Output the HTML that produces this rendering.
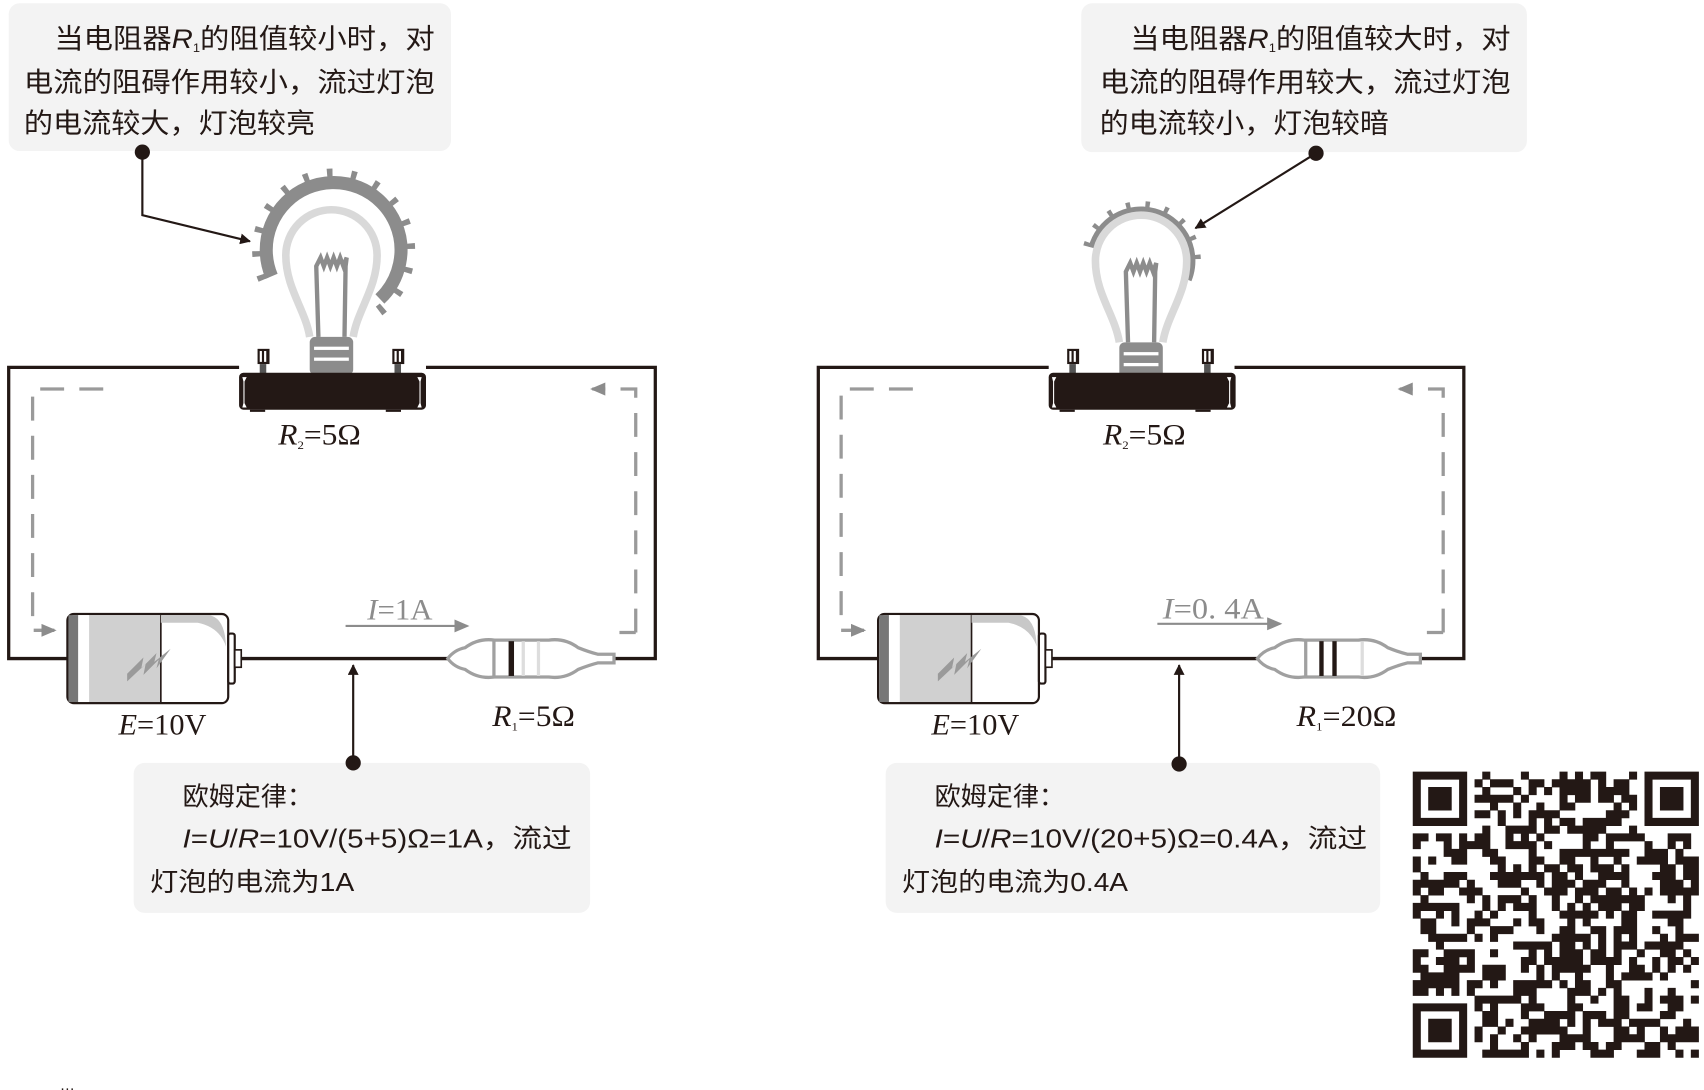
<!DOCTYPE html>
<html><head><meta charset="utf-8"><style>
html,body{margin:0;padding:0;background:#fff;width:1704px;height:1090px;overflow:hidden}
svg{display:block}
.cn{font-family:"Liberation Sans","Noto Sans CJK SC",sans-serif;fill:#231815}
.sr{font-family:"Liberation Serif","Noto Serif CJK SC",serif;fill:#231815}
</style></head><body>
<svg id="s" width="1704" height="1090" viewBox="0 0 1568 1003" xmlns="http://www.w3.org/2000/svg">
<defs>
<marker id="ab" markerWidth="10" markerHeight="10" refX="9" refY="5" orient="auto" markerUnits="userSpaceOnUse"><path d="M0,0 L18,5 L0,10 Z" transform="scale(0.55,1)" fill="#231815"/></marker>
<marker id="ag" markerWidth="14" markerHeight="12" refX="12" refY="6" orient="auto" markerUnits="userSpaceOnUse"><path d="M0,0 L14,6 L0,12 Z" fill="#8c8c8c"/></marker>
<g id="socket">
 <rect x="-5" y="-32" width="11" height="14" fill="#231815"/><rect x="-3" y="-30" width="2" height="10" fill="#fff"/><rect x="1" y="-30" width="2" height="10" fill="#fff"/>
 <rect x="-3" y="-18" width="6" height="10" fill="#555"/>
 <rect x="119" y="-32" width="11" height="14" fill="#231815"/><rect x="121" y="-30" width="2" height="10" fill="#fff"/><rect x="125" y="-30" width="2" height="10" fill="#fff"/>
 <rect x="121" y="-18" width="6" height="10" fill="#555"/>
 <rect x="-22" y="-10" width="172" height="34" rx="4" fill="#231815"/>
 <path d="M-19,-6 L-15,-6 L-17,-2 L-17,18 L-15,22 L-19,22 L-18,18 L-18,-2Z M146,-6 L142,-6 L144,-2 L144,18 L142,22 L146,22 L145,18 L145,-2Z" fill="#fff"/>
 <rect x="-12" y="24" width="14" height="2" fill="#231815"/><rect x="113" y="24" width="14" height="2" fill="#231815"/>
</g>
<g id="bulb">
 <path d="M-20,75 C-24,50 -42,30 -42,0 A42,42 0 1 1 42,0 C42,30 24,50 20,75" fill="none" stroke="#d9d9d9" stroke-width="7"/>
 <path d="M-12,75 L-14,10 L-10,2 L-7,10 L-4,2 L-1,10 L2,2 L5,10 L8,2 L11,10 L14,2 L13,10 L12,75" fill="none" stroke="#8c8c8c" stroke-width="4"/>
 <rect x="-20" y="75" width="40" height="35" rx="5" fill="#8c8c8c"/>
 <rect x="-16" y="84" width="32" height="3" fill="#fff"/><rect x="-16" y="94" width="32" height="3" fill="#fff"/>
 <path d="M-13,110 L13,110 L5,120 L-5,120Z" fill="#8c8c8c"/>
</g>
<g id="battery">
 <rect x="0" y="0" width="148" height="82" rx="6" fill="#fff" stroke="#231815" stroke-width="2"/>
 <rect x="1" y="1" width="9" height="80" fill="#777"/>
 <rect x="10" y="1" width="10" height="80" fill="#fff"/>
 <rect x="20" y="1" width="66" height="80" fill="#d0d0d0"/>
 <line x1="86" y1="1" x2="86" y2="81" stroke="#231815" stroke-width="1.5"/>
 <path d="M86,1 L130,1 Q145,3 146,30 Q140,12 120,8 L86,8Z" fill="#c8c8c8"/>
 <path d="M55,55 L70,40 L68,50 L82,36 L80,44 L95,32 L82,50 L84,42 L70,56 L72,46 L55,62Z" fill="#9a9a9a"/>
 <rect x="148" y="18" width="6" height="46" rx="2" fill="#fff" stroke="#231815" stroke-width="2"/>
 <rect x="154" y="33" width="6" height="16" fill="#fff" stroke="#231815" stroke-width="1.5"/>
</g>
</defs>

<!-- LEFT PANEL -->
<rect x="8" y="3" width="407" height="136" rx="10" fill="#f3f3f3"/>
<text class="cn" font-size="25" x="50" y="44" textLength="350" lengthAdjust="spacingAndGlyphs">当电阻器<tspan font-style="italic">R</tspan><tspan font-size="11" dy="4">1</tspan><tspan dy="-4">的阻值较小时，对</tspan></text>
<text class="cn" font-size="25" x="22" y="84" textLength="378" lengthAdjust="spacingAndGlyphs">电流的阻碍作用较小，流过灯泡</text>
<text class="cn" font-size="25" x="22" y="122" textLength="268" lengthAdjust="spacingAndGlyphs">的电流较大，灯泡较亮</text>
<circle cx="131" cy="140" r="7" fill="#231815"/>
<polyline points="131,140 131,198 230,222" fill="none" stroke="#231815" stroke-width="2" marker-end="url(#ab)"/>
<!-- glow left -->
<circle cx="307" cy="230" r="62" fill="none" stroke="#8c8c8c" stroke-width="12" stroke-dasharray="270 200" transform="rotate(157 307 230)"/>
<circle cx="307" cy="230" r="70" fill="none" stroke="#8c8c8c" stroke-width="10" transform="rotate(157 307 230)" style="stroke-dasharray:5 17,5 17,5 17,5 17,5 17,5 17,5 17,5 17,5 17,5 17,5 17,5 17,5 17,5 17,5 400"/>
<use href="#bulb" x="305" y="235"/>
<!-- wires left -->
<path d="M220,338 L8,338 L8,606 L62,606 M392,338 L603,338 L603,606 L565,606 M222,606 L412,606" fill="none" stroke="#231815" stroke-width="3"/>
<use href="#socket" x="242" y="353"/>
<path d="M95,358 L30,358 L30,580 L50,580" fill="none" stroke="#9a9a9a" stroke-width="3" stroke-dasharray="22 14" marker-end="url(#ag)"/>
<path d="M585,582 L585,358 L545,358" fill="none" stroke="#9a9a9a" stroke-width="3" stroke-dasharray="22 14" marker-end="url(#ag)"/>
<line x1="570" y1="582" x2="585" y2="582" stroke="#9a9a9a" stroke-width="3"/>
<text class="sr" font-size="27" x="256" y="409" textLength="76" lengthAdjust="spacingAndGlyphs"><tspan font-style="italic">R</tspan><tspan font-size="11" dy="4">2</tspan><tspan dy="-4">=5Ω</tspan></text>
<use href="#battery" x="62" y="565"/>
<text class="sr" font-size="27" x="109" y="676" textLength="81" lengthAdjust="spacingAndGlyphs"><tspan font-style="italic">E</tspan>=10V</text>
<line x1="318" y1="576" x2="430" y2="576" stroke="#8c8c8c" stroke-width="2" marker-end="url(#ag)"/>
<text class="sr" font-size="27" x="338" y="570" textLength="60" lengthAdjust="spacingAndGlyphs" style="fill:#8c8c8c"><tspan font-style="italic">I</tspan>=1A</text>
<!-- resistor left -->
<path d="M412,606 Q418,598 428,596 Q440,587 455,589 L505,589 Q520,587 532,596 Q542,600 550,602 L565,602 L565,610 L550,610 Q542,612 532,616 Q520,625 505,623 L455,623 Q440,625 428,616 Q418,614 412,606Z" fill="#fff" stroke="#a0a0a0" stroke-width="3"/>
<rect x="453" y="590" width="3" height="32" fill="#a0a0a0"/><rect x="468" y="590" width="5" height="32" fill="#231815"/><rect x="480" y="590" width="3" height="32" fill="#ddd"/><rect x="494" y="590" width="3" height="32" fill="#ddd"/>
<text class="sr" font-size="27" x="453" y="668" textLength="76" lengthAdjust="spacingAndGlyphs"><tspan font-style="italic">R</tspan><tspan font-size="11" dy="4">1</tspan><tspan dy="-4">=5Ω</tspan></text>
<rect x="123" y="702" width="420" height="138" rx="10" fill="#f3f3f3"/>
<circle cx="325" cy="702" r="7" fill="#231815"/>
<line x1="325" y1="702" x2="325" y2="612" stroke="#231815" stroke-width="2" marker-end="url(#ab)"/>
<text class="cn" font-size="24" x="168" y="741" textLength="120" lengthAdjust="spacingAndGlyphs">欧姆定律：</text>
<text class="cn" font-size="24" x="168" y="780" textLength="358" lengthAdjust="spacingAndGlyphs"><tspan font-style="italic">I</tspan>=<tspan font-style="italic">U</tspan>/<tspan font-style="italic">R</tspan>=10V/(5+5)Ω=1A，流过</text>
<text class="cn" font-size="24" x="138" y="820" textLength="188" lengthAdjust="spacingAndGlyphs">灯泡的电流为1A</text>

<!-- RIGHT PANEL -->
<rect x="995" y="3" width="410" height="137" rx="10" fill="#f3f3f3"/>
<text class="cn" font-size="25" x="1040" y="44" textLength="350" lengthAdjust="spacingAndGlyphs">当电阻器<tspan font-style="italic">R</tspan><tspan font-size="11" dy="4">1</tspan><tspan dy="-4">的阻值较大时，对</tspan></text>
<text class="cn" font-size="25" x="1012" y="84" textLength="378" lengthAdjust="spacingAndGlyphs">电流的阻碍作用较大，流过灯泡</text>
<text class="cn" font-size="25" x="1012" y="122" textLength="266" lengthAdjust="spacingAndGlyphs">的电流较小，灯泡较暗</text>
<circle cx="1211" cy="141" r="7" fill="#231815"/>
<line x1="1211" y1="141" x2="1100" y2="210" stroke="#231815" stroke-width="2" marker-end="url(#ab)"/>
<circle cx="1050" cy="240" r="46" fill="none" stroke="#8c8c8c" stroke-width="8" stroke-dasharray="150 200" transform="rotate(195 1050 240)"/>
<circle cx="1050" cy="240" r="52" fill="none" stroke="#8c8c8c" stroke-width="6" transform="rotate(195 1050 240)" style="stroke-dasharray:4 14,4 14,4 14,4 14,4 14,4 14,4 14,4 14,4 400"/>
<use href="#bulb" x="1050" y="240"/>
<path d="M965,338 L753,338 L753,606 L808,606 M1136,338 L1347,338 L1347,606 L1307,606 M968,606 L1157,606" fill="none" stroke="#231815" stroke-width="3"/>
<use href="#socket" x="987" y="353"/>
<path d="M840,358 L774,358 L774,580 L795,580" fill="none" stroke="#9a9a9a" stroke-width="3" stroke-dasharray="22 14" marker-end="url(#ag)"/>
<path d="M1328,582 L1328,358 L1288,358" fill="none" stroke="#9a9a9a" stroke-width="3" stroke-dasharray="22 14" marker-end="url(#ag)"/>
<line x1="1313" y1="582" x2="1328" y2="582" stroke="#9a9a9a" stroke-width="3"/>
<text class="sr" font-size="27" x="1015" y="409" textLength="76" lengthAdjust="spacingAndGlyphs"><tspan font-style="italic">R</tspan><tspan font-size="11" dy="4">2</tspan><tspan dy="-4">=5Ω</tspan></text>
<use href="#battery" x="808" y="565"/>
<text class="sr" font-size="27" x="857" y="676" textLength="81" lengthAdjust="spacingAndGlyphs"><tspan font-style="italic">E</tspan>=10V</text>
<line x1="1065" y1="574" x2="1178" y2="574" stroke="#8c8c8c" stroke-width="2" marker-end="url(#ag)"/>
<text class="sr" font-size="27" x="1070" y="569" textLength="93" lengthAdjust="spacingAndGlyphs" style="fill:#8c8c8c"><tspan font-style="italic">I</tspan>=0. 4A</text>
<path d="M1157,606 Q1163,598 1173,596 Q1185,587 1200,589 L1250,589 Q1265,587 1277,596 Q1287,600 1295,602 L1307,602 L1307,610 L1295,610 Q1287,612 1277,616 Q1265,625 1250,623 L1200,623 Q1185,625 1173,616 Q1163,614 1157,606Z" fill="#fff" stroke="#a0a0a0" stroke-width="3"/>
<rect x="1200" y="590" width="3" height="32" fill="#a0a0a0"/><rect x="1214" y="590" width="4" height="32" fill="#231815"/><rect x="1226" y="590" width="4" height="32" fill="#231815"/><rect x="1252" y="590" width="3" height="32" fill="#ddd"/>
<text class="sr" font-size="27" x="1193" y="668" textLength="92" lengthAdjust="spacingAndGlyphs"><tspan font-style="italic">R</tspan><tspan font-size="11" dy="4">1</tspan><tspan dy="-4">=20Ω</tspan></text>
<rect x="815" y="702" width="455" height="138" rx="10" fill="#f3f3f3"/>
<circle cx="1085" cy="703" r="7" fill="#231815"/>
<line x1="1085" y1="703" x2="1085" y2="612" stroke="#231815" stroke-width="2" marker-end="url(#ab)"/>
<text class="cn" font-size="24" x="860" y="741" textLength="120" lengthAdjust="spacingAndGlyphs">欧姆定律：</text>
<text class="cn" font-size="24" x="860" y="780" textLength="398" lengthAdjust="spacingAndGlyphs"><tspan font-style="italic">I</tspan>=<tspan font-style="italic">U</tspan>/<tspan font-style="italic">R</tspan>=10V/(20+5)Ω=0.4A，流过</text>
<text class="cn" font-size="24" x="830" y="820" textLength="208" lengthAdjust="spacingAndGlyphs">灯泡的电流为0.4A</text>

<g id="qr"></g>
<text class="cn" font-size="14" x="55" y="1003">…</text>
</svg>
<script>
(function(){
var N=37,x0=1300,y0=710,S=263/N,g=document.getElementById('qr'),ns='http://www.w3.org/2000/svg';
var seed=12345;function r(){seed=(seed*1103515245+12345)&0x7fffffff;return seed/0x7fffffff;}
function fin(i,j){var pts=[[0,0],[N-7,0],[0,N-7]];for(var k=0;k<3;k++){var a=i-pts[k][0],b=j-pts[k][1];if(a>=-1&&a<=7&&b>=-1&&b<=7){if(a<0||a>6||b<0||b>6)return 0;if(a==0||a==6||b==0||b==6)return 1;if(a>=2&&a<=4&&b>=2&&b<=4)return 1;return 0;}}return -1;}
var d='';
for(var j=0;j<N;j++)for(var i=0;i<N;i++){var f=fin(i,j);var on=f==-1?(r()<0.52):f==1;if(on)d+='M'+(x0+i*S).toFixed(2)+','+(y0+j*S).toFixed(2)+'h'+(S+0.3).toFixed(2)+'v'+(S+0.3).toFixed(2)+'h-'+(S+0.3).toFixed(2)+'z';}
var p=document.createElementNS(ns,'path');p.setAttribute('d',d);p.setAttribute('fill','#231815');g.appendChild(p);
})();
</script>
</body></html>
